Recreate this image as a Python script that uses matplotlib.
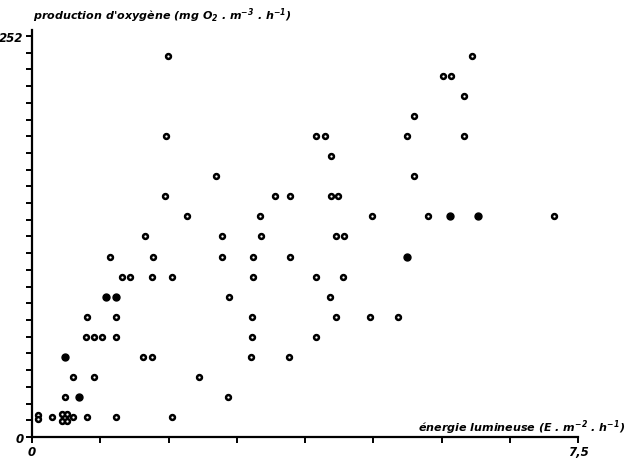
import matplotlib
matplotlib.use("Agg")
import matplotlib.pyplot as plt
import numpy as np

# Light energy (E . m-2 . h-1) and oxygen production (mg O2 . m-3 . h-1)
energy_open = [1.87, 6.04, 5.65, 5.76, 5.93, 5.25,
               1.84, 3.90, 4.02, 5.15, 5.93, 4.11,
               2.53, 5.25,
               1.83, 3.34, 3.54, 4.11, 4.20,
               2.13, 3.13, 4.67, 5.44, 7.17,
               1.55, 2.61, 3.15, 4.18, 4.29,
               1.07, 1.66, 2.61, 3.04, 3.54,
               1.24, 1.35, 1.65, 1.92, 3.04, 3.90, 4.27,
               2.71, 4.09,
               0.76, 1.15, 3.02, 4.18, 4.64, 5.03,
               0.74, 0.85, 0.96, 1.15, 3.02, 3.90,
               1.52, 1.65, 3.01, 3.53,
               0.56, 0.85, 2.29,
               0.45, 2.69,
               0.08, 0.08, 0.27, 0.41, 0.48, 0.41, 0.48, 0.56, 0.76, 1.15, 1.92]
oxygen_open = [239.4, 239.4, 226.8, 226.8, 214.2, 201.6,
               189.0, 189.0, 189.0, 189.0, 189.0, 176.4,
               163.8, 163.8,
               151.2, 151.2, 151.2, 151.2, 151.2,
               138.6, 138.6, 138.6, 138.6, 138.6,
               126.0, 126.0, 126.0, 126.0, 126.0,
               113.4, 113.4, 113.4, 113.4, 113.4,
               100.8, 100.8, 100.8, 100.8, 100.8, 100.8, 100.8,
               88.2, 88.2,
               75.6, 75.6, 75.6, 75.6, 75.6, 75.6,
               63.0, 63.0, 63.0, 63.0, 63.0, 63.0,
               50.4, 50.4, 50.4, 50.4,
               37.8, 37.8, 37.8,
               25.2, 25.2,
               13.8, 11.3, 12.6, 14.4, 14.4, 10.0, 10.0, 12.6, 12.6, 12.6, 12.6]
energy_filled = [5.74, 6.13, 5.15, 1.02, 1.15, 0.45, 0.65]
oxygen_filled = [138.6, 138.6, 113.4, 88.2, 88.2, 50.4, 25.2]

x_ticks = np.arange(0, 9) * 0.9375
y_ticks = np.arange(0, 25) * 10.5
x_labels = ["0", "", "", "", "", "", "", "", "7,5"]
y_labels = ["0"] + [""] * 23 + ["252"]

plt.rcParams["mathtext.fontset"] = "custom"
plt.rcParams["mathtext.rm"] = "DejaVu Sans:italic:bold"
plt.rcParams["mathtext.it"] = "DejaVu Sans:italic:bold"
plt.rcParams["mathtext.default"] = "rm"

fig = plt.figure(figsize=(6.28, 4.60), dpi=100)
ax = fig.add_axes([32 / 628, 22 / 460, 546 / 628, 407.4 / 460])
ax.set_xlim(0, 7.5)
ax.set_ylim(0, 256)

ax.plot(energy_open, oxygen_open, linestyle="none", marker="o", ms=3.5,
        mfc="white", mec="black", mew=1.8)
ax.plot(energy_filled, oxygen_filled, linestyle="none", marker="o", ms=5.0,
        mfc="black", mec="black", mew=1.0)

for s in ["top", "right"]:
    ax.spines[s].set_visible(False)
for s in ["left", "bottom"]:
    ax.spines[s].set_linewidth(1.6)
    ax.spines[s].set_color("black")

ax.set_xticks(x_ticks)
ax.set_xticklabels(x_labels)
ax.set_yticks(y_ticks)
ax.set_yticklabels(y_labels)
ax.tick_params(axis="both", direction="out", length=4, width=1.4, pad=2,
               labelsize=8.5)
for lab in ax.get_xticklabels() + ax.get_yticklabels():
    lab.set_fontweight("bold")
    lab.set_fontstyle("italic")

fig.text(33 / 628, 1 - 16 / 460,
         "production d'oxygène (mg O$_2$ . m$^{-3}$ . h$^{-1}$)",
         fontsize=8, fontweight="bold", fontstyle="italic",
         ha="left", va="center")
fig.text(625 / 628, 1 - 428 / 460,
         "énergie lumineuse (E . m$^{-2}$ . h$^{-1}$)",
         fontsize=8, fontweight="bold", fontstyle="italic",
         ha="right", va="center")

fig.savefig("out.png", dpi=100, facecolor="white")
